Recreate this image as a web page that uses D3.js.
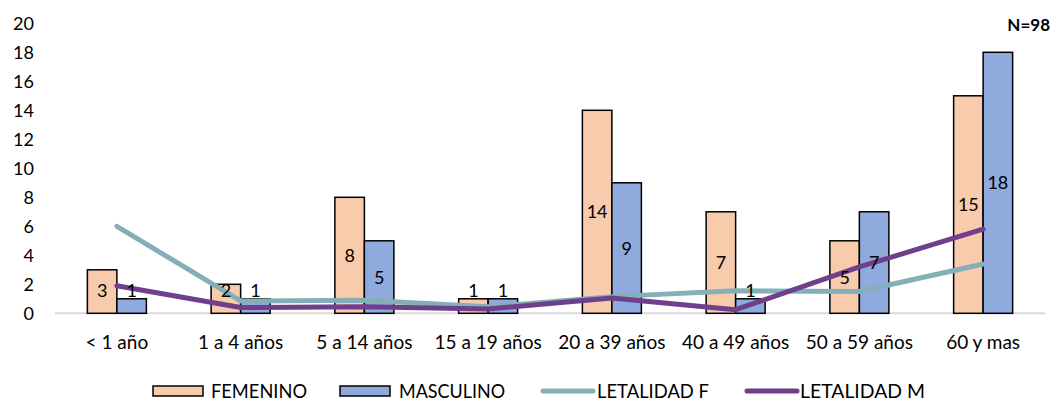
<!DOCTYPE html>
<html>
<head>
<meta charset="utf-8">
<script src="https://cdn.jsdelivr.net/npm/d3@7"></script>
<style>
  html, body { margin: 0; padding: 0; background: #fff; }
  svg { display: block; font-family: Lato, "Open Sans", sans-serif; }
</style>
</head>
<body>
<svg id="chart" width="1052" height="405"></svg>
<script>
// Age groups
const categories = ["< 1 año", "1 a 4 años", "5 a 14 años", "15 a 19 años",
                    "20 a 39 años", "40 a 49 años", "50 a 59 años", "60 y mas"];
// Cases by sex
const femenino  = [3, 2, 8, 1, 14, 7, 5, 15];
const masculino = [1, 1, 5, 1, 9, 1, 7, 18];
// Lethality by sex
const letalidadF = [6.0, 0.85, 0.9, 0.45, 1.15, 1.55, 1.5, 3.4];
const letalidadM = [1.9, 0.4, 0.45, 0.3, 1.05, 0.25, 3.2, 5.8];
// Y axis ticks
const yTicks = [0, 2, 4, 6, 8, 10, 12, 14, 16, 18, 20];

const seriesNames = ["FEMENINO", "MASCULINO", "LETALIDAD F", "LETALIDAD M"];
const colors = {
  FEMENINO: "#F8CBAD",
  MASCULINO: "#8FAADC",
  "LETALIDAD F": "#84AFB7",
  "LETALIDAD M": "#6F3F8C"
};

const svg = d3.select("#chart");
const plot = { left: 55, right: 1045, top: 23.3, bottom: 313.3 };

const x = d3.scaleBand().domain(categories).range([plot.left, plot.right]).padding(0);
const y = d3.scaleLinear().domain([0, 20]).range([plot.bottom, plot.top]);

const barW = 29.5;
const sub = d3.scaleBand().domain(["FEMENINO", "MASCULINO"])
  .range([x.bandwidth() / 2 - barW, x.bandwidth() / 2 + barW]).padding(0);

// Y tick labels
svg.append("g").selectAll("text").data(yTicks).join("text")
  .attr("x", 34).attr("y", d => y(d)).attr("dy", "0.36em")
  .attr("text-anchor", "end").attr("font-size", 18).attr("fill", "#000")
  .text(d => d);

// Baseline
svg.append("line")
  .attr("x1", plot.left).attr("x2", plot.right)
  .attr("y1", y(0)).attr("y2", y(0))
  .attr("stroke", "#D9D9D9").attr("stroke-width", 2);

// X labels
svg.append("g").selectAll("text").data(categories).join("text")
  .attr("x", d => x(d) + x.bandwidth() / 2).attr("y", 349)
  .attr("text-anchor", "middle").attr("font-size", 19).attr("fill", "#000")
  .text(d => d);

// Bars
const barData = [];
categories.forEach((c, i) => {
  barData.push({ cat: c, key: "FEMENINO", v: femenino[i] });
  barData.push({ cat: c, key: "MASCULINO", v: masculino[i] });
});

svg.append("g").selectAll("rect").data(barData).join("rect")
  .attr("x", d => x(d.cat) + sub(d.key))
  .attr("y", d => y(d.v))
  .attr("width", sub.bandwidth())
  .attr("height", d => y(0) - y(d.v))
  .attr("fill", d => colors[d.key])
  .attr("stroke", "#000").attr("stroke-width", 1.5);

// Lethality lines
const line = d3.line()
  .x((d, i) => x(categories[i]) + x.bandwidth() / 2)
  .y(d => y(d));

[["LETALIDAD F", letalidadF], ["LETALIDAD M", letalidadM]].forEach(([name, vals]) => {
  svg.append("path").datum(vals)
    .attr("d", line)
    .attr("fill", "none")
    .attr("stroke", colors[name])
    .attr("stroke-width", 5)
    .attr("stroke-linejoin", "round")
    .attr("stroke-linecap", "round");
});

// Bar value labels (centred in the bar, kept clear of the baseline)
svg.append("g").selectAll("text").data(barData).join("text")
  .attr("x", d => x(d.cat) + sub(d.key) + sub.bandwidth() / 2)
  .attr("y", d => y(Math.max(d.v / 2, 1.6)))
  .attr("dy", "0.36em")
  .attr("text-anchor", "middle").attr("font-size", 18).attr("fill", "#000")
  .text(d => d.v);

// Total
svg.append("text")
  .attr("x", 1050).attr("y", 31)
  .attr("text-anchor", "end").attr("font-size", 17).attr("font-weight", "bold")
  .attr("fill", "#000")
  .text("N=98");

// Legend
const legendItems = [
  { name: "FEMENINO", type: "box", x0: 153, tx: 211, tw: 96 },
  { name: "MASCULINO", type: "box", x0: 340, tx: 399, tw: 106 },
  { name: "LETALIDAD F", type: "line", x0: 540, tx: 597, tw: 112 },
  { name: "LETALIDAD M", type: "line", x0: 744, tx: 800, tw: 125 }
];
const ly = 391;
const lg = svg.append("g");
legendItems.forEach(it => {
  if (it.type === "box") {
    lg.append("rect").attr("x", it.x0).attr("y", ly - 5).attr("width", 50).attr("height", 10)
      .attr("fill", colors[it.name]).attr("stroke", "#000").attr("stroke-width", 1.5);
  } else {
    lg.append("line").attr("x1", it.x0 + 3).attr("x2", it.x0 + 53)
      .attr("y1", ly).attr("y2", ly)
      .attr("stroke", colors[it.name]).attr("stroke-width", 5).attr("stroke-linecap", "round");
  }
  lg.append("text").attr("x", it.tx).attr("y", ly).attr("dy", "0.36em")
    .attr("font-size", 19).attr("fill", "#000")
    .attr("textLength", it.tw).attr("lengthAdjust", "spacingAndGlyphs")
    .text(it.name);
});
</script>
</body>
</html>
